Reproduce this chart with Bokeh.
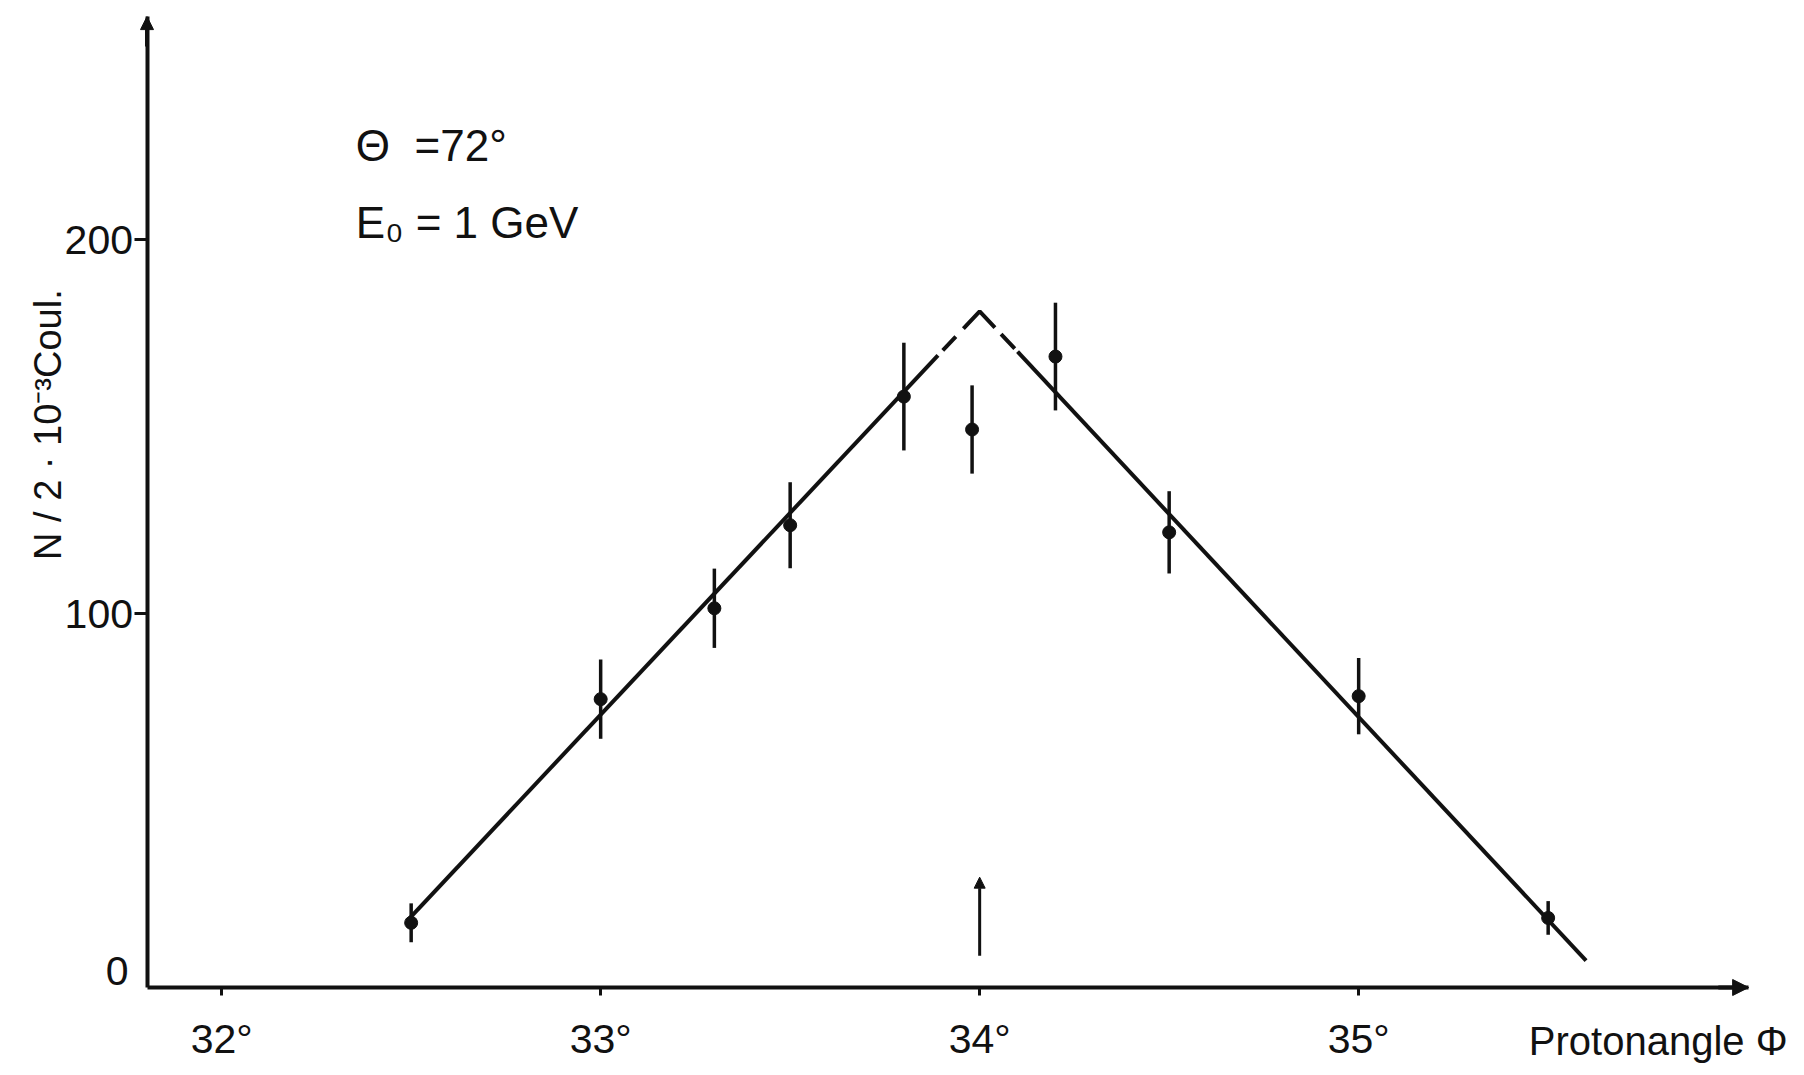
from bokeh.plotting import figure
from bokeh.models import Range1d, FixedTicker, Label, Arrow, NormalHead, ColumnDataSource
from bokeh.embed import file_html
from bokeh.resources import INLINE
import math

# ---------------- data ----------------
angle = [32.5, 33.0, 33.3, 33.5, 33.8, 33.98, 34.2, 34.5, 35.0, 35.5]
counts = [17.3, 77.1, 101.4, 123.6, 158.0, 149.2, 168.7, 121.7, 77.9, 18.6]
errors = [5.2, 10.6, 10.6, 11.5, 14.4, 11.8, 14.4, 11.0, 10.2, 4.5]

fit_left_x = [32.49, 33.89]
fit_left_y = [17.9, 169.0]
fit_peak_x = [33.89, 34.0, 34.10]
fit_peak_y = [169.0, 180.8, 170.0]
fit_right_x = [34.10, 35.60]
fit_right_y = [170.0, 7.2]

marker_angle = 34.0
marker_span = [8.5, 29.5]

x_ticks = [32, 33, 34, 35]
x_tick_labels = ["32°", "33°", "34°", "35°"]
y_ticks = [100, 200]
y_tick_labels = ["100", "200"]

# axis extents (where the drawn axes start and where their arrows end)
x_axis_start, x_axis_end = 31.803, 36.029
y_axis_start, y_axis_end = 0.0, 259.6

# visible data window (whole figure is the plotting frame)
W, H = 1790, 1065
PX_PER_DEG, PX_PER_UNIT = 379.0, 3.74
x_view_lo = x_axis_start - 146.5 / PX_PER_DEG
x_view_hi = x_view_lo + W / PX_PER_DEG
y_view_hi = 987.0 / PX_PER_UNIT
y_view_lo = y_view_hi - H / PX_PER_UNIT

FONT = "Liberation Sans"
INK = "#111111"
NB = "\u00a0"

src = ColumnDataSource(dict(
    x=angle, y=counts,
    lo=[c - e for c, e in zip(counts, errors)],
    hi=[c + e for c, e in zip(counts, errors)],
))

p = figure(width=W, height=H,
           x_range=Range1d(x_view_lo, x_view_hi), y_range=Range1d(y_view_lo, y_view_hi),
           output_backend="svg", toolbar_location=None,
           min_border_left=0, min_border_right=0,
           min_border_top=0, min_border_bottom=0)
p.outline_line_color = None
p.xgrid.visible = False
p.ygrid.visible = False
p.background_fill_color = "white"
p.border_fill_color = "white"

# axes: drawn where the original axes cross
xa, ya = p.xaxis[0], p.yaxis[0]
xa.fixed_location = y_axis_start
ya.fixed_location = x_axis_start
xa.bounds = (x_axis_start, x_axis_end)
ya.bounds = (y_axis_start, y_axis_end)
for ax in (xa, ya):
    ax.axis_line_width = 4
    ax.axis_line_color = INK
    ax.major_tick_line_color = INK
    ax.major_tick_line_width = 3
    ax.major_tick_in = 0
    ax.minor_tick_line_color = None
    ax.major_label_text_font = FONT
    ax.major_label_text_font_size = "41px"
    ax.major_label_text_color = INK

xa.ticker = FixedTicker(ticks=x_ticks)
xa.major_label_overrides = dict(zip(x_ticks, x_tick_labels))
xa.major_tick_out = 8
xa.major_label_standoff = 20

ya.ticker = FixedTicker(ticks=y_ticks)
ya.major_label_overrides = dict(zip(y_ticks, y_tick_labels))
ya.major_tick_out = 13
ya.major_label_standoff = 1

# axis arrow heads
p.add_layout(Arrow(end=NormalHead(size=16, fill_color=INK, line_color=INK),
                   x_start=x_axis_end - 0.08, y_start=y_axis_start,
                   x_end=x_axis_end, y_end=y_axis_start,
                   line_width=4, line_color=INK))
p.add_layout(Arrow(end=NormalHead(size=13, fill_color=INK, line_color=INK),
                   x_start=x_axis_start, y_start=y_axis_end - 8,
                   x_end=x_axis_start, y_end=y_axis_end,
                   line_width=4, line_color=INK))

# fit lines
p.line(fit_left_x, fit_left_y, line_width=4, line_color=INK)
p.line(fit_right_x, fit_right_y, line_width=4, line_color=INK)
p.line(fit_peak_x, fit_peak_y, line_width=4, line_color=INK,
       line_dash="0 7 19 11 46 9 20 7")

# error bars and points
p.segment(x0="x", y0="lo", x1="x", y1="hi", source=src, line_width=3.5, line_color=INK)
p.scatter(x="x", y="y", source=src, size=13, fill_color=INK, line_color=INK)

# marker arrow at 34 deg
p.add_layout(Arrow(end=NormalHead(size=11, fill_color=INK, line_color=INK),
                   x_start=marker_angle, y_start=marker_span[0],
                   x_end=marker_angle, y_end=marker_span[1],
                   line_width=3, line_color=INK))

# texts
def lab(x, y, text, size, align="left", baseline="middle", angle_=0.0):
    p.add_layout(Label(x=x, y=y, text=text, text_font=FONT, text_font_size=size,
                       text_color=INK, text_align=align, text_baseline=baseline,
                       angle=angle_))

lab(32.354, 225.1, "Θ" + NB * 2 + "=72°", "44px")
lab(32.354, 204.5, "E₀" + NB + "=" + NB + "1" + NB + "GeV", "44px")
lab(31.694, 4.5, "0", "41px")
lab(31.543, 150.5, "N / 2 · 10⁻³Coul.", "38px", align="center", angle_=math.pi / 2)
lab(35.449, -14.2, "Protonangle Φ", "40px")

open("out.html", "w").write(file_html(p, INLINE))
